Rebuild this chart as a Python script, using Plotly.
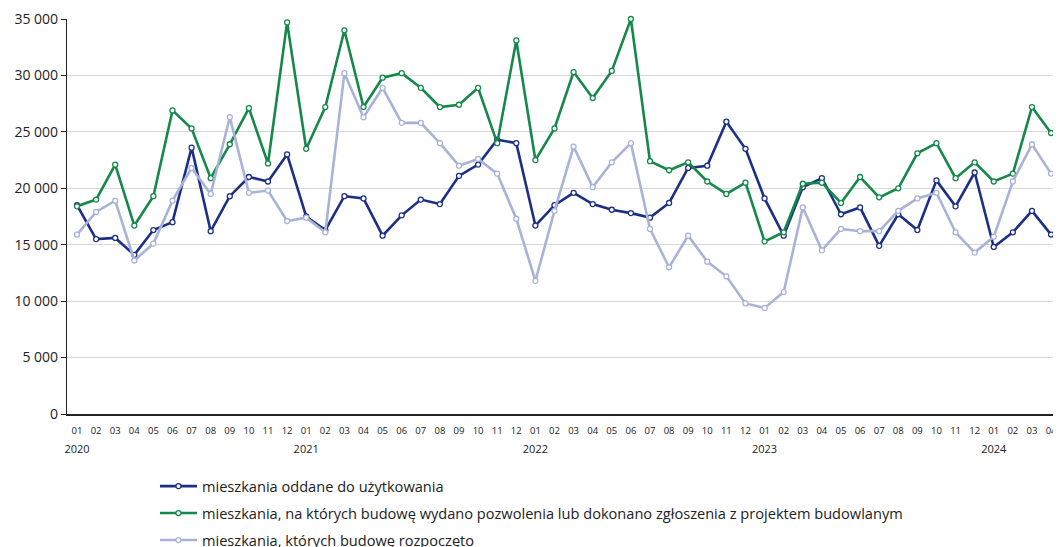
import plotly.graph_objects as go

months = ["01","02","03","04","05","06","07","08","09","10","11","12"]
years = ["2020","2021","2022","2023","2024"]
n_months = 52
tick_labels = []
for i in range(n_months):
    m = "<span style='font-size:9.5px'>" + months[i % 12] + "</span>"
    if i % 12 == 0:
        tick_labels.append(m + "<br><span style='font-size:11px'>" + years[i // 12] + "</span>")
    else:
        tick_labels.append(m)

oddane = [18500, 15500, 15600, 14100, 16300, 17000, 23600, 16200, 19300, 21000, 20600, 23000,
          17500, 16300, 19300, 19100, 15800, 17600, 19000, 18600, 21100, 22100, 24300, 24000,
          16700, 18500, 19600, 18600, 18100, 17800, 17400, 18700, 21800, 22000, 25900, 23500,
          19100, 15800, 20100, 20900, 17700, 18300, 14900, 17700, 16300, 20700, 18400, 21400,
          14800, 16100, 18000, 15900]

pozwolenia = [18400, 19000, 22100, 16700, 19300, 26900, 25300, 20900, 23900, 27100, 22200, 34700,
              23500, 27200, 34000, 27200, 29800, 30200, 28900, 27200, 27400, 28900, 24000, 33100,
              22500, 25300, 30300, 28000, 30400, 35000, 22400, 21600, 22300, 20600, 19500, 20500,
              15300, 16100, 20400, 20500, 18700, 21000, 19200, 20000, 23100, 24000, 20900, 22300,
              20600, 21300, 27200, 24900]

rozpoczete = [15900, 17900, 18900, 13600, 15100, 18900, 21800, 19500, 26300, 19600, 19800, 17100,
              17400, 16100, 30200, 26300, 28900, 25800, 25800, 24000, 22000, 22600, 21300, 17300,
              11800, 18000, 23700, 20100, 22300, 24000, 16400, 13000, 15800, 13500, 12200, 9800,
              9400, 10800, 18300, 14500, 16400, 16200, 16200, 18000, 19100, 19600, 16100, 14300,
              15700, 20600, 23900, 21300]

names = ["mieszkania oddane do użytkowania",
         "mieszkania, na których budowę wydano pozwolenia lub dokonano zgłoszenia z projektem budowlanym",
         "mieszkania, których budowę rozpoczęto"]
colors = ["#1c2f86", "#15884a", "#a9b3d7"]
series = [oddane, pozwolenia, rozpoczete]

x = list(range(n_months))
fig = go.Figure()
for k, (name, col, vals) in enumerate(zip(names, colors, series)):
    fig.add_trace(go.Scatter(
        x=x, y=vals, name=name, mode="lines+markers", legendgroup=f"g{k}",
        line=dict(color=col, width=2.6), cliponaxis=False,
        marker=dict(symbol="circle", size=5, color="white", line=dict(color=col, width=1.3)),
    ))

fig.update_layout(
    width=1053, height=539,
    margin=dict(l=59, r=0, t=11, b=133, autoexpand=False),
    paper_bgcolor="white", plot_bgcolor="white",
    font=dict(family="Open Sans, DejaVu Sans, sans-serif", color="#222222"),
    showlegend=True,
    legend=dict(orientation="v", x=0.0885, xanchor="left", y=-0.142, yanchor="top",
                font=dict(size=14.6, color="#222222"), tracegroupgap=5, itemwidth=37,
                bgcolor="rgba(0,0,0,0)"),
    xaxis=dict(
        range=[-0.524, 51.52], tickmode="array", tickvals=x, ticktext=tick_labels,
        showgrid=False, zeroline=False, showline=True, linecolor="#222222", linewidth=1.8,
        ticks="outside", ticklen=1, tickcolor="rgba(0,0,0,0)", ticklabeloverflow="allow",
        tickfont=dict(size=14.6, color="#222222"), tickangle=0, automargin=False,
    ),
    yaxis=dict(
        range=[0, 35000], tickmode="array",
        tickvals=[0, 5000, 10000, 15000, 20000, 25000, 30000, 35000],
        ticktext=["0", "5 000", "10 000", "15 000", "20 000", "25 000", "30 000", "35 000"],
        showgrid=True, gridcolor="#d9d9d9", gridwidth=1.3, zeroline=False,
        showline=True, linecolor="#222222", linewidth=1.3,
        ticks="outside", ticklen=5, tickcolor="#222222",
        tickfont=dict(size=14, color="#222222"), automargin=False,
    ),
)

fig.write_html("out.html")
